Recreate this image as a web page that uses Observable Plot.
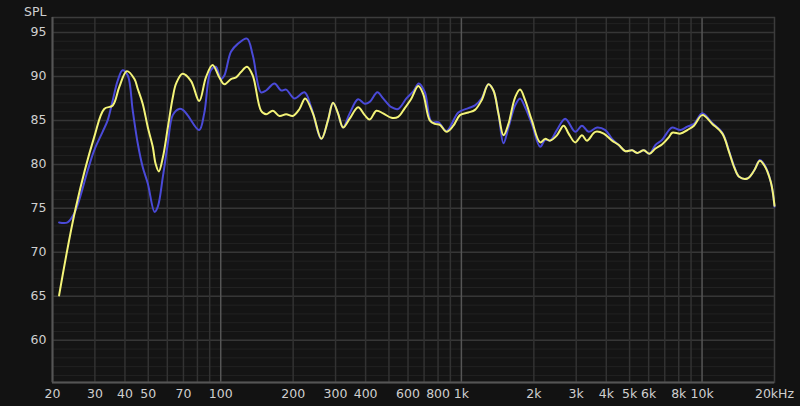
<!DOCTYPE html>
<html>
<head>
<meta charset="utf-8">
<script src="https://cdn.jsdelivr.net/npm/d3@7"></script>
<script src="https://cdn.jsdelivr.net/npm/@observablehq/plot@0.6"></script>
<style>
  html, body { margin: 0; padding: 0; background: #121212; }
  #chart { width: 800px; height: 406px; }
</style>
</head>
<body>
<div id="chart"></div>
<script>
// Yellow response (frequency Hz, SPL dB)
const yellowFreq = [21.3, 25.0, 29.8, 32.8, 35.6, 37.9, 40.7, 43.8, 45.2, 47.4, 49.8, 52.2, 53.6, 55.3, 57.5, 60.3, 63.2, 65.3, 69.4, 75.2, 81.4, 86.8, 92.5, 98.6, 103.5, 110.3, 115.8, 121.4, 128.6, 135.9, 147.1, 154.4, 164.6, 175.4, 187, 199.4, 212.5, 224.4, 241.6, 262, 279, 292.8, 307.2, 322.3, 343.4, 372.2, 396.6, 416, 443.6, 473, 512, 546, 582, 620, 662, 694, 739, 776, 814, 868, 926, 986, 1069, 1139, 1214, 1295, 1359, 1425, 1496, 1569, 1671, 1753, 1840, 1962, 2125, 2230, 2338, 2494, 2660, 2790, 2973, 3170, 3326, 3602, 3904, 4227, 4508, 4802, 5122, 5374, 5730, 6046, 6404, 6832, 7286, 7516, 8140, 8680, 9256, 10024, 11034, 12146, 12954, 13590, 14257, 15438, 16462, 17374, 18124, 19304, 20000];
const yellowSpl = [65.1, 75.1, 83.1, 86.3, 86.7, 88.8, 90.6, 89.7, 88.6, 86.9, 84.2, 82.0, 80.1, 79.2, 80.8, 84.2, 87.6, 89.2, 90.3, 89.5, 87.2, 89.9, 91.3, 89.9, 89.1, 89.7, 89.9, 90.5, 91.1, 90.1, 86.1, 85.7, 86.1, 85.5, 85.7, 85.5, 86.3, 87.5, 85.8, 82.9, 85.0, 87.0, 85.8, 84.2, 85.2, 86.5, 85.6, 85.1, 86.1, 85.8, 85.3, 85.4, 86.4, 87.5, 88.9, 88.0, 85.0, 84.6, 84.5, 83.7, 84.4, 85.6, 85.9, 86.2, 87.3, 89.1, 88.4, 85.8, 83.3, 84.6, 87.6, 88.5, 87.3, 85.0, 82.5, 82.9, 82.7, 83.3, 84.4, 83.5, 82.5, 83.3, 82.7, 83.7, 83.5, 82.7, 82.2, 81.5, 81.6, 81.3, 81.6, 81.2, 81.8, 82.3, 83.1, 83.6, 83.5, 83.9, 84.4, 85.6, 84.6, 83.5, 81.4, 79.7, 78.6, 78.4, 79.3, 80.4, 79.9, 78.0, 75.3];

// Blue response (frequency Hz, SPL dB)
const blueFreq = [21.3, 23.1, 24.6, 25.8, 28.0, 29.8, 32.3, 33.9, 35.6, 37.3, 39.1, 41.1, 43.1, 45.2, 47.4, 49.8, 53.1, 54.8, 57.5, 60.3, 63.2, 67.2, 69.6, 72.8, 81.4, 85.4, 91.0, 95.5, 100.2, 103.5, 110.3, 117.7, 128.6, 135.9, 147.1, 154.4, 167.2, 178.3, 187, 202.5, 222.9, 237.7, 262, 279, 292.8, 307.2, 322.3, 343.4, 372.2, 396.6, 416, 447.8, 473, 512, 546, 591, 631, 665, 705, 752, 802, 868, 971, 1069, 1139, 1214, 1295, 1359, 1425, 1496, 1569, 1671, 1753, 1840, 1962, 2125, 2230, 2338, 2494, 2700, 2973, 3170, 3381, 3662, 3964, 4227, 4508, 4802, 5122, 5374, 5730, 6046, 6404, 6832, 7286, 7516, 8140, 8680, 9256, 10024, 11034, 12146, 12954, 13590, 14257, 15438, 16462, 17374, 18124, 19304, 20000];
const blueSpl = [73.4, 73.4, 74.4, 75.9, 79.3, 81.6, 83.7, 85.0, 87.3, 89.5, 90.7, 90.1, 86.1, 82.4, 79.7, 77.8, 74.6, 75.2, 78.6, 82.4, 85.6, 86.3, 86.2, 85.6, 83.9, 85.8, 90.7, 91.1, 89.7, 90.1, 92.8, 93.7, 94.3, 92.4, 88.2, 88.4, 89.2, 88.4, 88.5, 87.5, 88.2, 86.5, 82.9, 85.0, 87.0, 85.8, 84.2, 85.8, 87.4, 86.9, 87.1, 88.2, 87.5, 86.5, 86.3, 87.5, 88.3, 89.2, 88.2, 84.8, 84.8, 83.8, 85.9, 86.4, 86.7, 87.5, 89.1, 88.4, 85.8, 82.4, 84.2, 86.7, 87.5, 86.5, 84.6, 82.0, 82.8, 82.7, 83.9, 85.2, 83.7, 84.4, 83.7, 84.2, 83.9, 82.9, 82.2, 81.5, 81.6, 81.3, 81.6, 81.2, 82.2, 82.8, 83.9, 84.2, 83.9, 84.3, 84.6, 85.8, 84.7, 83.6, 81.5, 79.8, 78.6, 78.4, 79.3, 80.5, 80.0, 78.0, 75.2];

// Axis ticks
const xTickValues = [20, 30, 40, 50, 70, 100, 200, 300, 400, 600, 800, 1000, 2000, 3000, 4000, 5000, 6000, 8000, 10000, 20000];
const xTickLabels = ["20", "30", "40", "50", "70", "100", "200", "300", "400", "600", "800", "1k", "2k", "3k", "4k", "5k", "6k", "8k", "10k", "20kHz"];
const yTickValues = [60, 65, 70, 75, 80, 85, 90, 95];

// Grid positions
const minorFreqGrid = [30, 40, 50, 60, 70, 80, 90, 200, 300, 400, 500, 600, 700, 800, 900, 2000, 3000, 4000, 5000, 6000, 7000, 8000, 9000];
const decadeFreqGrid = [100, 1000, 10000];
const minorDbGrid = d3.range(56, 97, 1);
const majorDbGrid = yTickValues;

const yellow = yellowFreq.map((f, i) => ({f, v: yellowSpl[i]}));
const blue = blueFreq.map((f, i) => ({f, v: blueSpl[i]}));
const xTicks = xTickValues.map((v, i) => ({v, label: xTickLabels[i]}));

const chart = Plot.plot({
  width: 800,
  height: 406,
  marginLeft: 52,
  marginRight: 26,
  marginTop: 17,
  marginBottom: 24,
  style: {background: "#121212", color: "#cfcfcf", fontFamily: "DejaVu Sans, sans-serif", fontSize: "12.5px"},
  x: {type: "log", domain: [20, 20000], axis: null},
  y: {domain: [55.2, 96.7], axis: null},
  marks: [
    Plot.frame({fill: "#141414", stroke: null}),
    Plot.ruleY(minorDbGrid, {stroke: "#222222", strokeWidth: 1}),
    Plot.ruleY(majorDbGrid, {stroke: "#363636", strokeWidth: 1.5}),
    Plot.ruleX(minorFreqGrid, {stroke: "#323232", strokeWidth: 1.5}),
    Plot.ruleX(decadeFreqGrid, {stroke: "#555555", strokeWidth: 1.5}),
    Plot.frame({stroke: "#3c3c3c", strokeWidth: 1.5}),
    Plot.ruleX([20], {stroke: "#555555", strokeWidth: 2}),
    Plot.ruleY([55.2], {stroke: "#555555", strokeWidth: 2}),
    Plot.line(blue, {x: "f", y: "v", stroke: "#4a4ad8", strokeWidth: 2, curve: "catmull-rom"}),
    Plot.line(yellow, {x: "f", y: "v", stroke: "#f4f478", strokeWidth: 2, curve: "catmull-rom"}),
    Plot.text(xTicks, {x: "v", text: "label", frameAnchor: "bottom", lineAnchor: "top", dy: 7, fill: "#cfcfcf"}),
    Plot.text(yTickValues, {y: d => d, text: d => String(d), frameAnchor: "left", textAnchor: "end", dx: -6, fill: "#cfcfcf"}),
    Plot.text(["SPL"], {frameAnchor: "top-left", dx: -6, dy: -10, textAnchor: "end", fill: "#cfcfcf"})
  ]
});
document.getElementById("chart").appendChild(chart);
</script>
</body>
</html>
